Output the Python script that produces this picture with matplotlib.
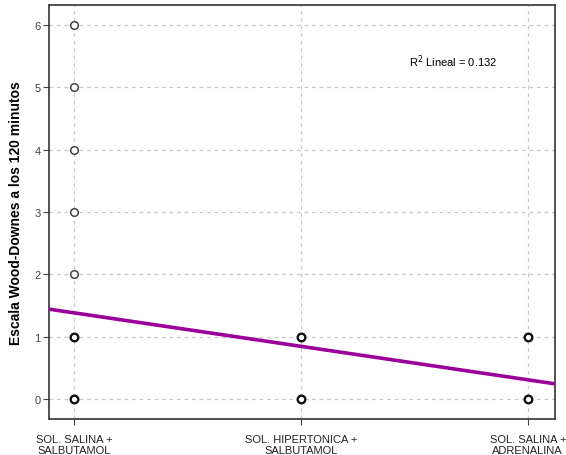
import matplotlib.pyplot as plt

# categories on x axis
categories = ['SOL. SALINA +\nSALBUTAMOL', 'SOL. HIPERTONICA +\nSALBUTAMOL', 'SOL. SALINA +\nADRENALINA']
cat_pos = [1, 2, 3]

# observed points (category index, score)
pts_x = [1, 1, 1, 1, 1, 1, 1, 2, 2, 3, 3]
pts_y = [0, 1, 2, 3, 4, 5, 6, 0, 1, 0, 1]
pts_bold = [True, True, False, False, False, False, False, True, True, True, True]

# linear fit
fit_intercept = 1.92
fit_slope = -0.537
r2 = 0.132

plt.rcParams['font.family'] = ['Liberation Sans', 'DejaVu Sans']

fig = plt.figure(figsize=(5.66, 4.56), dpi=100)
ax = fig.add_axes([0.0866, 0.0789, 0.894, 0.9079])

ax.set_xlim(0.89, 3.12)
ax.set_ylim(-0.32, 6.32)

ax.grid(True, color='#c8c8c8', linestyle=(0, (3, 3)), linewidth=0.9)
ax.set_axisbelow(True)

for x, y, b in zip(pts_x, pts_y, pts_bold):
    ax.plot(x, y, 'o', markersize=5.5, markerfacecolor='white',
            markeredgecolor='#111111' if b else '#444444',
            markeredgewidth=1.7 if b else 1.1, zorder=3)

xs = [0.89, 3.12]
ax.plot(xs, [fit_intercept + fit_slope * x for x in xs], color='#9b009b', linewidth=2.6, zorder=4)

ax.text(2.67, 5.43, 'R$^2$ Lineal = %.3f' % r2, fontsize=8, ha='center', va='center')

ax.set_xticks(cat_pos)
ax.set_xticklabels(categories, fontsize=8, color='#222222', linespacing=1.05)
ax.set_yticks(range(0, 7))
ax.tick_params(axis='y', labelsize=8, labelcolor='#444444', length=4, color='#444444', pad=2)
ax.tick_params(axis='x', length=4, pad=7, color='#444444')

for s in ax.spines.values():
    s.set_color('#333333')
    s.set_linewidth(1.2)

ax.set_ylabel('Escala Wood-Downes a los 120 minutos', fontsize=10, fontweight='bold', labelpad=8)

fig.savefig('out.png', dpi=100)
